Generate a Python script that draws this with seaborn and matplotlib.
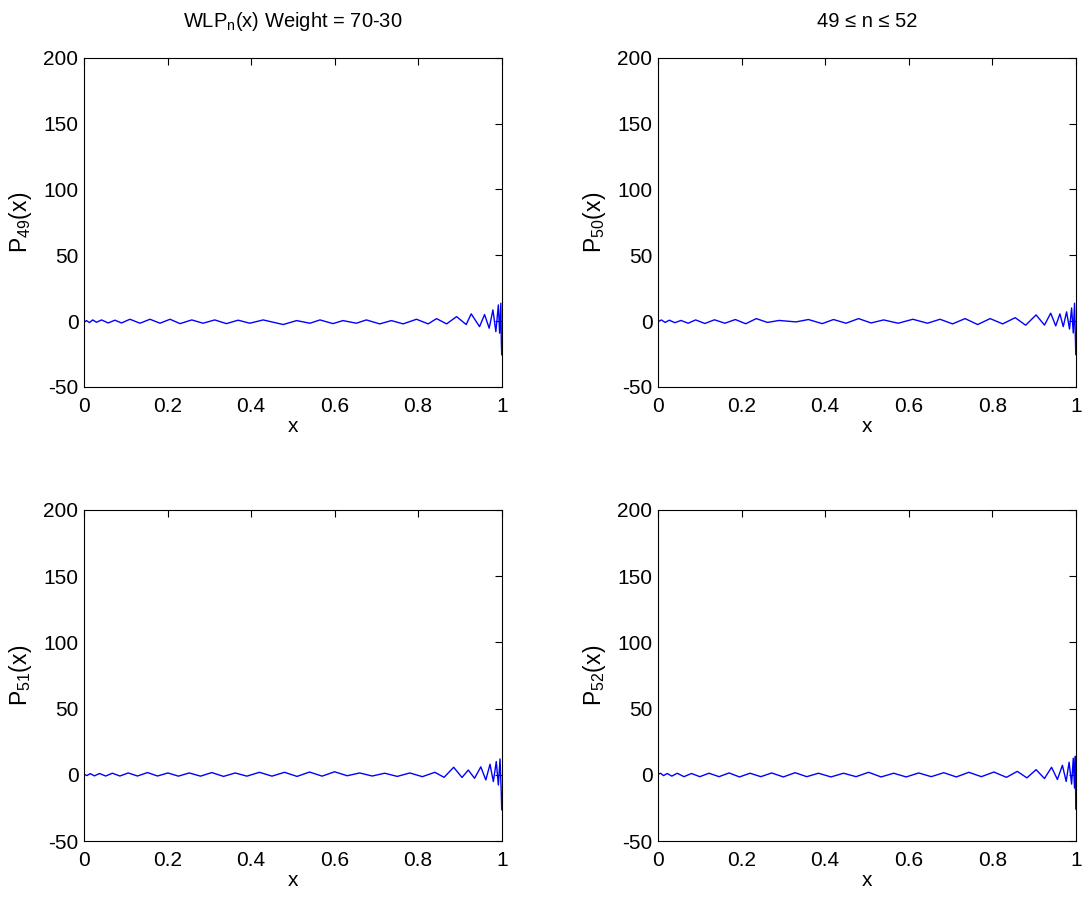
import matplotlib
matplotlib.use("Agg")
import matplotlib.pyplot as plt
import seaborn as sns
import pandas as pd

# ---- data (extrema of each curve) ----
x1 = [0, 0.006, 0.013, 0.021, 0.030, 0.042, 0.058, 0.074, 0.090, 0.110, 0.134, 0.158, 0.182, 0.206,
      0.230, 0.258, 0.285, 0.313, 0.341, 0.369, 0.397, 0.429, 0.477, 0.509, 0.541, 0.565, 0.596,
      0.620, 0.652, 0.676, 0.708, 0.736, 0.764, 0.796, 0.824, 0.844, 0.868, 0.892, 0.915, 0.927,
      0.947, 0.959, 0.970, 0.979, 0.986, 0.992, 0.995, 0.998, 0.999, 1.0]
y1 = [-0.9, 0.4, -1.1, 0.9, -0.9, 0.9, -1.4, 0.7, -1.4, 1.4, -1.6, 1.4, -1.6, 1.4,
      -1.9, 0.9, -1.6, 0.9, -1.9, 0.7, -1.6, 0.9, -2.6, 0.4, -1.6, 0.9, -1.9,
      0.4, -1.6, 0.9, -2.1, 0.4, -2.1, 1.4, -2.1, 1.9, -2.1, 3.4, -2.6, 5.5,
      -4.2, 5.0, -5.4, 8.5, -8.0, 12.3, -9.2, 13.6, -14.3, -25.7]

x2 = [0, 0.008, 0.017, 0.027, 0.040, 0.055, 0.072, 0.090, 0.112, 0.135, 0.160, 0.185, 0.210, 0.235,
      0.262, 0.290, 0.330, 0.360, 0.393, 0.420, 0.450, 0.480, 0.510, 0.540, 0.575, 0.610, 0.645,
      0.675, 0.705, 0.735, 0.765, 0.795, 0.825, 0.855, 0.880, 0.905, 0.925, 0.940, 0.952, 0.962,
      0.970, 0.978, 0.985, 0.990, 0.994, 0.997, 0.999, 1.0]
y2 = [-0.5, 0.9, -1.0, 0.7, -1.2, 0.5, -1.6, 0.9, -1.8, 1.0, -1.6, 1.2, -2.0, 1.9,
      -1.0, 0.5, -0.6, 1.2, -1.9, 1.2, -1.6, 1.9, -1.4, 0.9, -1.6, 1.4, -1.6,
      1.4, -2.1, 1.9, -2.6, 1.9, -2.1, 2.6, -3.1, 4.7, -3.0, 6.0, -3.6, 5.5,
      -4.2, 7.0, -6.0, 10.0, -9.0, 13.6, -12.0, -25.5]

x3 = [0, 0.007, 0.015, 0.025, 0.037, 0.052, 0.068, 0.086, 0.106, 0.128, 0.152, 0.176, 0.201, 0.226,
      0.252, 0.279, 0.306, 0.334, 0.362, 0.390, 0.420, 0.450, 0.480, 0.510, 0.540, 0.570, 0.600,
      0.630, 0.660, 0.690, 0.720, 0.750, 0.780, 0.810, 0.840, 0.862, 0.885, 0.905, 0.920, 0.935,
      0.950, 0.962, 0.972, 0.980, 0.987, 0.992, 0.996, 0.999, 1.0]
y3 = [0.5, -0.6, 0.9, -0.8, 1.0, -0.9, 1.2, -0.9, 1.4, -0.9, 1.7, -0.9, 1.4, -1.0,
      1.4, -1.0, 1.7, -1.2, 1.4, -1.0, 1.9, -1.0, 1.9, -1.2, 2.1, -1.0, 2.3,
      -0.7, 1.4, -0.9, 1.2, -1.2, 1.4, -1.4, 1.9, -1.9, 5.7, -2.0, 3.6, -2.6,
      6.0, -3.9, 8.0, -5.1, 10.0, -7.7, 12.0, -14.0, -26.5]

x4 = [0, 0.006, 0.013, 0.022, 0.033, 0.046, 0.062, 0.080, 0.100, 0.122, 0.146, 0.170, 0.195, 0.220,
      0.246, 0.272, 0.300, 0.328, 0.356, 0.384, 0.414, 0.444, 0.474, 0.504, 0.534, 0.564, 0.594,
      0.624, 0.654, 0.684, 0.714, 0.744, 0.774, 0.804, 0.834, 0.860, 0.883, 0.905, 0.925, 0.942,
      0.956, 0.968, 0.977, 0.984, 0.990, 0.994, 0.997, 0.999, 1.0]
y4 = [0.3, 1.2, -0.6, 1.0, -1.0, 1.2, -1.4, 1.0, -1.4, 1.2, -1.4, 1.4, -1.6, 1.2,
      -1.4, 1.4, -1.6, 1.6, -1.4, 1.2, -1.6, 1.2, -1.4, 1.9, -1.6, 1.2, -1.6,
      1.4, -1.4, 1.6, -1.6, 1.9, -1.4, 2.1, -1.9, 2.6, -2.3, 3.9, -2.8, 5.7,
      -3.5, 7.2, -5.0, 9.5, -7.0, 12.5, -10.0, 14.0, -26.0]

series = [(x1, y1, "49"), (x2, y2, "50"), (x3, y3, "51"), (x4, y4, "52")]

xticks = [0, 0.2, 0.4, 0.6, 0.8, 1]
xticklabels = ["0", "0.2", "0.4", "0.6", "0.8", "1"]
yticks = [-50, 0, 50, 100, 150, 200]
titles = [r"WLP$_{\mathrm{n}}$(x) Weight = 70-30", "49 \u2264 n \u2264 52", "", ""]

sns.set_theme(style="white")
plt.rcParams["font.family"] = ["Liberation Sans", "DejaVu Sans"]
plt.rcParams["mathtext.fontset"] = "custom"
plt.rcParams["mathtext.rm"] = "Liberation Sans"
plt.rcParams["mathtext.it"] = "Liberation Sans"
plt.rcParams["axes.unicode_minus"] = False
plt.rcParams["text.color"] = "black"
plt.rcParams["axes.labelcolor"] = "black"

fig = plt.figure(figsize=(10.85, 9.02), dpi=100)
positions = [
    [0.0774, 0.571, 0.385, 0.365],
    [0.6065, 0.571, 0.385, 0.365],
    [0.0774, 0.0676, 0.385, 0.367],
    [0.6065, 0.0676, 0.385, 0.367],
]

for i, ((xs, ys, lab), pos) in enumerate(zip(series, positions)):
    ax = fig.add_axes(pos)
    df = pd.DataFrame({"x": xs, "y": ys})
    sns.lineplot(data=df, x="x", y="y", ax=ax, sort=False, estimator=None,
                 color="#0000ff", linewidth=1.0)
    ax.set_xlim(0, 1)
    ax.set_ylim(-50, 200)
    ax.set_xticks(xticks)
    ax.set_xticklabels(xticklabels)
    ax.set_yticks(yticks)
    ax.tick_params(direction="in", length=5, width=0.8, top=True, right=True,
                   labelsize=15, colors="black")
    ax.tick_params(axis="x", pad=7)
    ax.tick_params(axis="y", pad=4)
    for s in ax.spines.values():
        s.set_color("black")
        s.set_linewidth(0.8)
    ax.set_xlabel("x", fontsize=15, labelpad=1)
    ax.set_ylabel(r"P$_{\mathrm{%s}}$(x)" % lab, fontsize=16.5, labelpad=7)
    if titles[i]:
        ax.set_title(titles[i], fontsize=14.5, pad=22)

fig.savefig("out.png", dpi=100, facecolor="white")
